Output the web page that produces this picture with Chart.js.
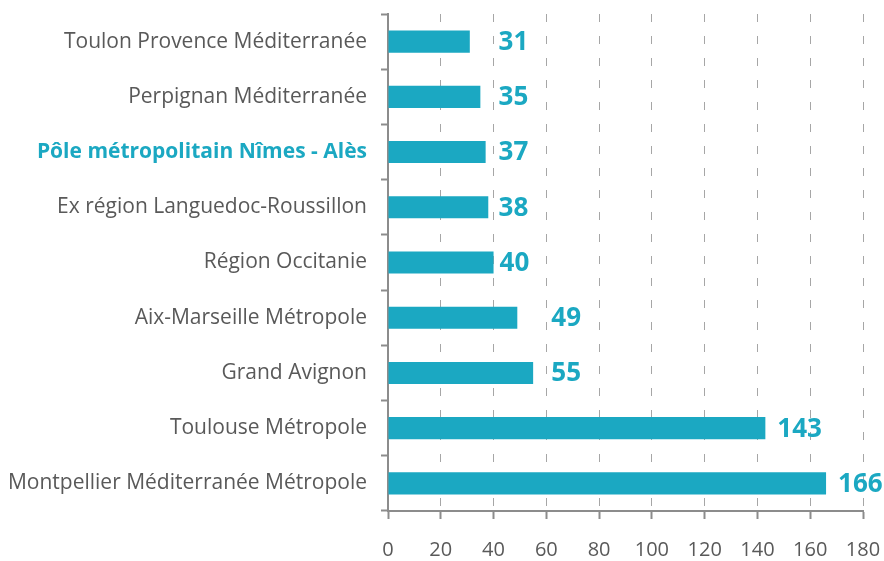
<!DOCTYPE html>
<html><head><meta charset="utf-8">
<script src="https://cdn.jsdelivr.net/npm/chart.js@4"></script>
<style>html,body{margin:0;padding:0;background:#fff}#w{width:884px;height:561px}</style>
</head><body><div id="w"><canvas id="c"></canvas></div>
<script>
const categories = ["Toulon Provence Méditerranée","Perpignan Méditerranée","Pôle métropolitain Nîmes - Alès","Ex région Languedoc-Roussillon","Région Occitanie","Aix-Marseille Métropole","Grand Avignon","Toulouse Métropole","Montpellier Méditerranée Métropole"];
const values = [31,35,37,38,40,49,55,143,166];
const highlighted = "Pôle métropolitain Nîmes - Alès";
const xTicks = [0,20,40,60,80,100,120,140,160,180];

const TEAL = '#1ba8c2', GRAY = '#595959', AXIS = '#8c8c8c';
const valueLabels = {
  id:'valueLabels',
  afterDatasetsDraw(chart){
    const ctx = chart.ctx, meta = chart.getDatasetMeta(0), xs = chart.scales.x;
    ctx.save();
    ctx.font = 'bold 26px "Open Sans"';
    ctx.fillStyle = TEAL; ctx.textBaseline='middle'; ctx.textAlign='left';
    meta.data.forEach((el,i)=>{
      const v = values[i];
      let x = el.x + 12;
      if (v < 100) x = Math.max(el.x + 6, xs.getPixelForValue(Math.ceil(v/20)*20) + 5);
      ctx.fillText(String(v), x, el.y + 1);
    });
    ctx.restore();
  }
};
new Chart(document.getElementById('c'), {
  type:'bar',
  data:{labels:categories, datasets:[{data:values, backgroundColor:TEAL, borderWidth:0, categoryPercentage:0.8, barPercentage:0.5}]},
  options:{
    indexAxis:'y', responsive:true, maintainAspectRatio:false, animation:false,
    layout:{padding:{top:14,right:21,left:0,bottom:0}},
    plugins:{legend:{display:false}, tooltip:{enabled:false}},
    scales:{
      x:{min:0,max:180,
        afterBuildTicks(s){ s.ticks = xTicks.map(v=>({value:v})); },
        afterFit(s){ s.paddingLeft = 0; s.paddingRight = 0; s.height = 50; },
        border:{display:true,color:AXIS,width:2,dash:[8,14]},
        grid:{color:(c)=>c.index===0?'rgba(0,0,0,0)':'#a6a6a6', lineWidth:1, tickColor:AXIS, tickWidth:2, tickLength:8, tickBorderDash:[], drawTicks:true},
        ticks:{color:GRAY, font:{family:'Open Sans', size:20}, padding:19}
      },
      y:{
        afterFit(s){ s.paddingTop = 0; s.paddingBottom = 0; s.width = 388; },
        border:{display:true,color:AXIS,width:2},
        grid:{drawOnChartArea:false, tickColor:AXIS, tickWidth:2, tickLength:7, offset:true},
        ticks:{padding:14,
          color:(c)=>categories[c.index]===highlighted?TEAL:GRAY,
          font:(c)=>categories[c.index]===highlighted?{family:'Open Sans',size:21,weight:'bold'}:{family:'Open Sans',size:21}}
      }
    }
  },
  plugins:[valueLabels]
});
</script></body></html>
